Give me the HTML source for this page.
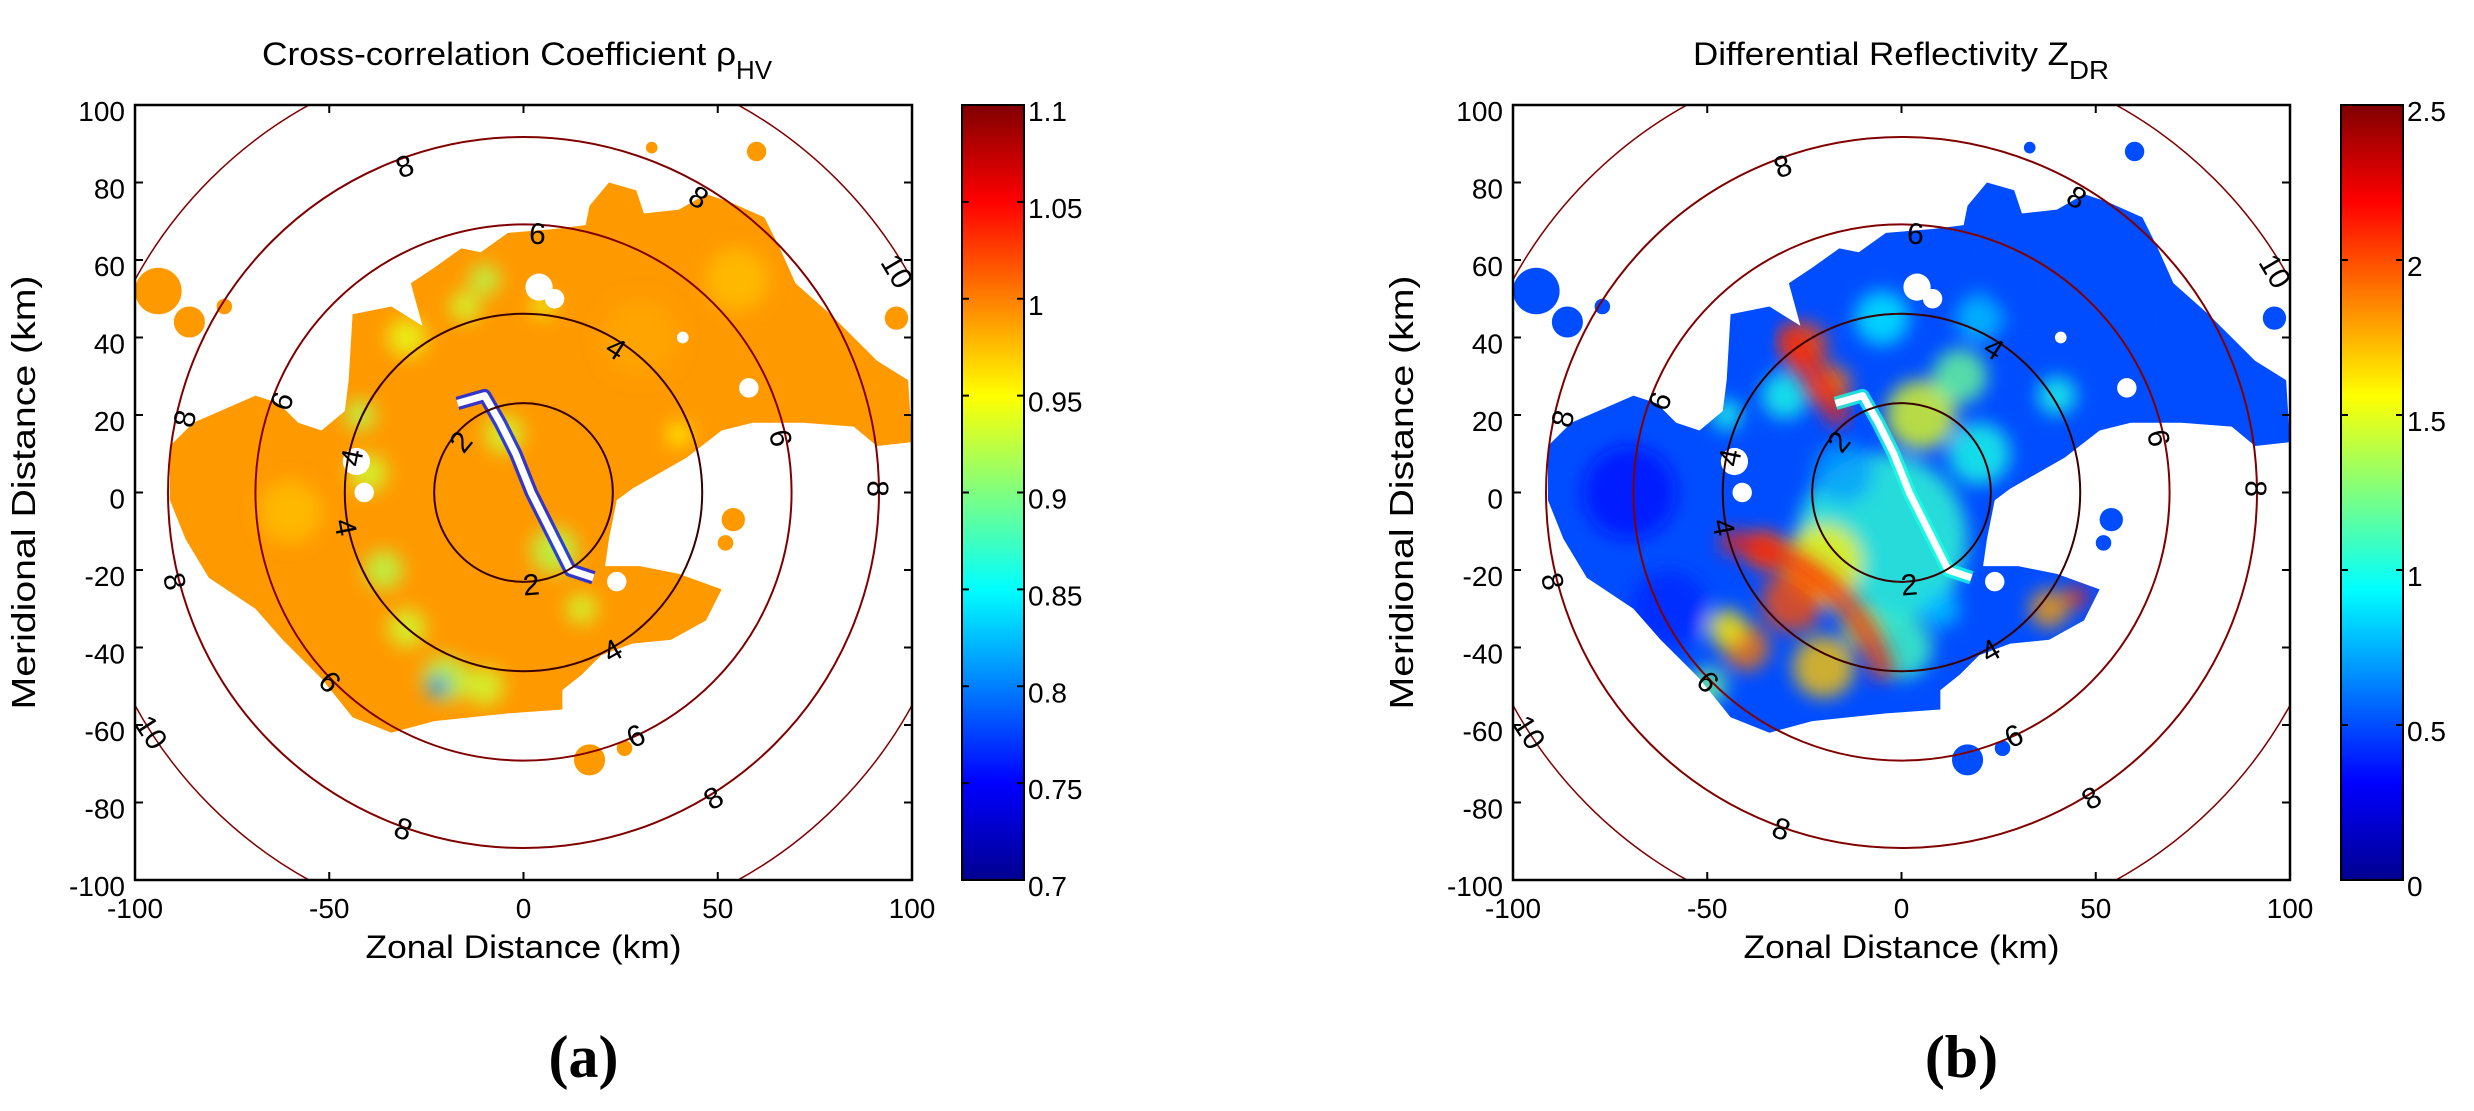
<!DOCTYPE html>
<html><head><meta charset="utf-8"><style>
html,body{margin:0;padding:0;background:#fff;}
svg{display:block;}
text{font-family:"Liberation Sans",sans-serif;fill:#000;}
</style></head><body>
<svg id="fig" width="2474" height="1111" viewBox="0 0 2474 1111" xmlns="http://www.w3.org/2000/svg">
<defs>
<filter id="blur" x="-20%" y="-20%" width="140%" height="140%"><feGaussianBlur stdDeviation="9"/></filter>
<linearGradient id="jetGrad" x1="0" y1="1" x2="0" y2="0">
<stop offset="0" stop-color="#00008f"/><stop offset="0.125" stop-color="#0000ff"/><stop offset="0.375" stop-color="#00ffff"/><stop offset="0.625" stop-color="#ffff00"/><stop offset="0.875" stop-color="#ff0000"/><stop offset="1" stop-color="#800000"/>
</linearGradient>
</defs>
</svg>
<script>
// ---- data (km / physical units) ----
const xTicks = [-100,-50,0,50,100];
const yTicks = [-100,-80,-60,-40,-20,0,20,40,60,80,100];
const ringLevels = [2,4,6,8,10];
const ringRadii = [23,46,69,91.5,114];
const echoOutline = [[-91,12],[-85,18],[-69,25],[-63,23],[-58,18],[-52,16],[-46,21],[-45,29],[-44,46],[-34,48],[-26,43],[-29,54],[-23,58],[-16,63],[-11,62],[-4,67],[8,68],[16,69],[17,74],[22,80],[29,78],[31,72],[40,73],[47,77],[53,75],[62,71],[66,63],[70,54],[79,46],[84,41],[91,34],[99,29],[100,13],[91,12],[85,17],[72,18],[59,18],[51,16],[42,9],[28,1],[24,-2],[22,-12],[21,-19],[30,-19],[40,-21],[51,-25],[47,-33],[38,-38],[28,-39],[20,-42],[15,-47],[10,-51],[10,-56],[-4,-57],[-23,-59],[-34,-62],[-44,-58],[-52,-48],[-62,-38],[-69,-30],[-81,-22],[-87,-12],[-91,-2]];
const echoBlobs = [[-94,52,6],[-86,44,4],[-77,48,2],[60,88,2.5],[54,-7,3],[52,-13,2],[17,-69,4],[26,-66,2],[96,45,3],[33,89,1.5]];
const holeStreak = [[-17,23],[-10,25],[-6,18],[-2,10],[2,0],[8,-12],[12,-20],[18,-22]];
const holeNotches = [[-43,8,3.5],[-41,0,2.5],[4,53,3.5],[8,50,2.5],[24,-23,2.5],[41,40,1.5],[58,27,2.5]];
const contourLabels = [[8,-30.5,84],[8,45,76],[6,3.6,66.6],[10,96,57],[4,23.7,37],[6,-62,23.5],[8,-87,19],[2,-16,13],[4,-44,9],[6,66,14],[8,91,1],[4,-46,-9],[8,-90,-23],[2,2,-24],[4,23,-41],[6,-50,-49],[10,-96,-62],[6,29,-63],[8,49,-79],[8,-31,-87]];
// rho_HV field patches: x, y, radius(km), value
const rhoBase = 0.99;
const rhoPatches = [[-40,5,5,0.93],[-36,-20,5,0.92],[-30,-35,5,0.93],[-20,-48,6,0.92],[-10,-50,5,0.93],[-22,-50,3,0.8],[-42,20,4,0.92],[-30,40,5,0.94],[-15,48,4,0.93],[-10,55,4,0.92],[5,48,3,0.94],[-5,15,5,0.93],[8,-15,6,0.92],[15,-30,4,0.93],[40,15,3,0.95],[-60,-5,8,0.975],[30,40,10,0.985],[55,55,8,0.975]];
const rhoStreak = 0.76;
// Z_DR field patches
const zdrBase = 0.5;
const zdrPatches = [[-70,0,12,0.35],[-60,-30,10,0.4],[-5,-12,22,1.05],[-20,-18,10,1.6],[-28,-28,8,2.0],[-35,-15,5,2.0],[-40,-40,6,1.9],[-20,-45,8,1.7],[0,-40,8,1.1],[-25,38,6,2.0],[-18,28,5,1.9],[-30,25,6,1.0],[5,20,9,1.5],[15,30,7,1.2],[20,10,8,1.0],[-5,45,7,0.9],[20,45,6,0.8],[40,25,5,1.0],[38,-30,5,1.8],[45,-27,3,2.1],[-10,-35,5,1.3],[-45,-35,5,1.6],[10,-30,5,0.8],[-50,-50,5,1.2],[-15,5,8,0.7],[30,55,10,0.5],[60,45,10,0.5],[-45,20,4,1.0]];
const zdrStreak = 1.0;
const cbTicksA = [0.7,0.75,0.8,0.85,0.9,0.95,1,1.05,1.1];
const cbTicksB = [0,0.5,1,1.5,2,2.5];

const NS = "http://www.w3.org/2000/svg";
const svg = document.getElementById('fig');
function mk(tag, attrs, parent){ const e=document.createElementNS(NS,tag); for(const k in attrs) e.setAttribute(k,attrs[k]); (parent||svg).appendChild(e); return e; }
function jet(t){ t=Math.max(0,Math.min(1,t)); const c=v=>Math.round(255*Math.max(0,Math.min(1,v)));
  return `rgb(${c(Math.min(4*t-1.5,-4*t+4.5))},${c(Math.min(4*t-0.5,-4*t+3.5))},${c(Math.min(4*t+0.5,-4*t+2.5))})`; }

function panel(P){
  const sx=x=>P.ax+(x+100)*P.w/200, sy=y=>P.ay+(100-y)*P.h/200, sr=r=>r*P.w/200;
  const col=v=>jet((v-P.vmin)/(P.vmax-P.vmin));
  const g=mk('g',{});  
  const cp=mk('clipPath',{id:P.id+'-echo'},svg.querySelector('defs'));
  mk('polygon',{points:echoOutline.map(p=>sx(p[0])+','+sy(p[1])).join(' ')},cp);
  echoBlobs.forEach(b=>mk('circle',{cx:sx(b[0]),cy:sy(b[1]),r:sr(b[2])},cp));
  const ac=mk('clipPath',{id:P.id+'-axclip'},svg.querySelector('defs'));
  mk('rect',{x:P.ax,y:P.ay,width:P.w,height:P.h},ac);
  const field=mk('g',{'clip-path':`url(#${P.id}-echo)`},g);
   
  mk('rect',{x:P.ax-20,y:P.ay-20,width:P.w+40,height:P.h+40,fill:col(P.base)},field);
  const pg=mk('g',{filter:'url(#blur)'},field);
  P.patches.forEach(p=>{ const c=mk('circle',{cx:sx(p[0]),cy:sy(p[1]),r:sr(p[2]),fill:col(p[3]),'fill-opacity':0.8},pg);
      });
  if(P.id==='zdr'){
    const a0=195*Math.PI/180,a1=265*Math.PI/180,R=48;
    mk('path',{d:`M${sx(R*Math.cos(a0))},${sy(R*Math.sin(a0))} A${sr(R)},${sr(R)} 0 0 1 ${sx(R*Math.cos(a1))},${sy(R*Math.sin(a1))}`,fill:'none',stroke:col(2.1),'stroke-width':sr(6),'stroke-opacity':0.75,filter:'url(#blur)'},field);
    mk('line',{x1:sx(-30),y1:sy(42),x2:sx(-15),y2:sy(18),stroke:col(2.1),'stroke-width':sr(6),'stroke-opacity':0.75,filter:'url(#blur)'},field);
  }
  const hp=holeStreak.map(p=>sx(p[0])+','+sy(p[1])).join(' ');
  mk('polyline',{points:hp,fill:'none',stroke:col(P.streak),'stroke-width':sr(3.5),'stroke-linejoin':'round','stroke-opacity':0.8},g);
  const hs=mk('polyline',{points:hp,fill:'none',stroke:'#fff','stroke-width':sr(1.8),'stroke-linejoin':'round'},g);
   
  holeNotches.forEach(h=>mk('circle',{cx:sx(h[0]),cy:sy(h[1]),r:sr(h[2]),fill:'#fff'},g));
  const rg=mk('g',{'clip-path':`url(#${P.id}-axclip)`},g);
  ringLevels.forEach((lv,i)=>{ const c=mk('circle',{cx:sx(0),cy:sy(0),r:sr(ringRadii[i]),fill:'none',stroke:lv<=4?'#3a0000':'#800000','stroke-width':lv>=10?1.5:2},rg);
      });
  contourLabels.forEach(l=>{ const th=Math.atan2(l[2],l[1])*180/Math.PI; let rot=90-th;
    while(rot>90) rot-=180; while(rot<-90) rot+=180;
    const t=mk('text',{x:sx(l[1]),y:sy(l[2]),'font-size':30,'text-anchor':'middle','dominant-baseline':'central',transform:`rotate(${rot} ${sx(l[1])} ${sy(l[2])})`},rg);
    t.textContent=l[0];   });
  const box=mk('rect',{x:P.ax,y:P.ay,width:P.w,height:P.h,fill:'none',stroke:'#000','stroke-width':2.5},g);
   
  xTicks.forEach(v=>{ const x=sx(v);
    mk('line',{x1:x,y1:P.ay+P.h,x2:x,y2:P.ay+P.h-8,stroke:'#000','stroke-width':2},g);
    mk('line',{x1:x,y1:P.ay,x2:x,y2:P.ay+8,stroke:'#000','stroke-width':2},g);
    const t=mk('text',{x:x,y:P.ay+P.h+38,'font-size':28,'text-anchor':'middle'},g); t.textContent=v;
      });
  yTicks.forEach(v=>{ const y=sy(v);
    mk('line',{x1:P.ax,y1:y,x2:P.ax+8,y2:y,stroke:'#000','stroke-width':2},g);
    mk('line',{x1:P.ax+P.w,y1:y,x2:P.ax+P.w-8,y2:y,stroke:'#000','stroke-width':2},g);
    const t=mk('text',{x:P.ax-10,y:y+16,'font-size':28,'text-anchor':'end'},g); t.textContent=v;
      });
  const xl=mk('text',{x:P.ax+P.w/2,y:958,'font-size':32,'text-anchor':'middle',textLength:316,lengthAdjust:'spacingAndGlyphs'},g);
  xl.textContent='Zonal Distance (km)';  
  const yx=P.ax-100, yc=P.ay+P.h/2;
  const yl=mk('text',{x:yx,y:yc,'font-size':33,'text-anchor':'middle',transform:`rotate(-90 ${yx} ${yc})`,textLength:434,lengthAdjust:'spacingAndGlyphs'},g);
  yl.textContent='Meridional Distance (km)';  
  const tt=mk('text',{x:P.titleX,y:65,'font-size':32},g);
   
  const m=mk('tspan',{textLength:P.titleLen,lengthAdjust:'spacingAndGlyphs'},tt); m.textContent=P.title;
  const s=mk('tspan',{dy:14,'font-size':26,textLength:P.subLen,lengthAdjust:'spacingAndGlyphs'},tt); s.textContent=P.sub;
  const cb=mk('rect',{x:P.cbx,y:P.ay,width:P.cbw,height:P.h,fill:'url(#jetGrad)',stroke:'#000','stroke-width':2},g);
   
  P.cbTicks.forEach(v=>{ const y=P.ay+P.h-(v-P.vmin)/(P.vmax-P.vmin)*P.h;
    mk('line',{x1:P.cbx,y1:y,x2:P.cbx+7,y2:y,stroke:'#000','stroke-width':2},g);
    mk('line',{x1:P.cbx+P.cbw,y1:y,x2:P.cbx+P.cbw-7,y2:y,stroke:'#000','stroke-width':2},g);
    const t=mk('text',{x:P.cbx+P.cbw+4,y:y+16,'font-size':28},g); t.textContent=String(v);
      });
  const pl=mk('text',{x:P.ax+P.w/2+60,y:1077,'font-size':60,'font-weight':'bold','text-anchor':'middle',style:'font-family:"Liberation Serif",serif'},g);
  pl.textContent=P.panelLabel;  
}
panel({id:'rho',ax:135,ay:105,w:777,h:775,cbx:962,cbw:62,vmin:0.7,vmax:1.1,base:rhoBase,patches:rhoPatches,streak:rhoStreak,cbTicks:cbTicksA,title:'Cross-correlation Coefficient ρ',sub:'HV',titleX:262,titleLen:474,subLen:36,panelLabel:'(a)'});
panel({id:'zdr',ax:1513,ay:105,w:777,h:775,cbx:2341,cbw:62,vmin:0,vmax:2.5,base:zdrBase,patches:zdrPatches,streak:zdrStreak,cbTicks:cbTicksB,title:'Differential Reflectivity Z',sub:'DR',titleX:1693,titleLen:376,subLen:40,panelLabel:'(b)'});
</script>
</body></html>
